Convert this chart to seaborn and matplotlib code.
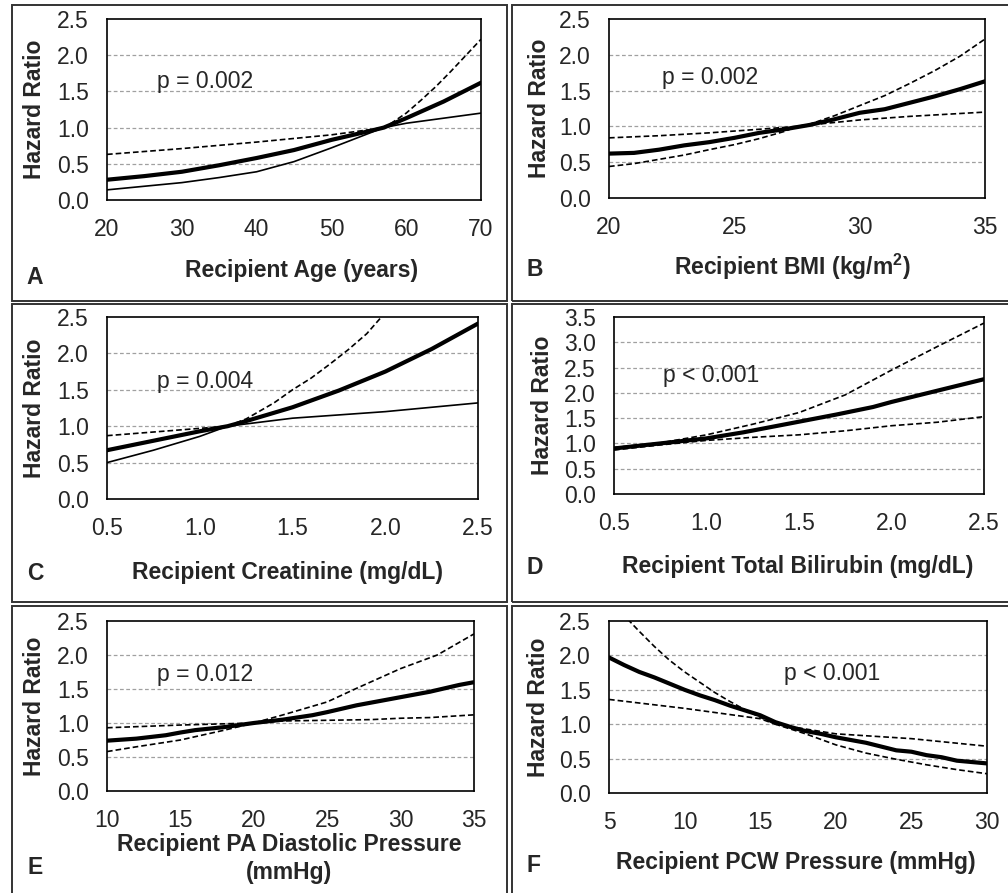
"""
Hazard ratio curves (A-F) for six recipient variables.
"""

# ------------------------------------------------ IMPORTS ------------------------------------------------ #

import numpy as np
import pandas as pd
import seaborn as sns
import matplotlib.pyplot as plt
from matplotlib.patches import Rectangle

# ----------------------------------------------- CONSTANTS ----------------------------------------------- #

W, H = 1008, 893

# A - Recipient Age
age_x = [20, 25, 30, 35, 40, 45, 50, 55, 57, 60, 65, 70]
age_hr = [0.28, 0.33, 0.39, 0.48, 0.58, 0.69, 0.83, 0.95, 1.0, 1.13, 1.36, 1.62]
age_x_up = [20, 30, 40, 50, 55, 57, 58, 60, 62, 64, 66, 68, 70]
age_up = [0.63, 0.71, 0.80, 0.90, 0.97, 1.0, 1.06, 1.20, 1.38, 1.57, 1.78, 2.0, 2.22]
age_x_lo = [20, 25, 30, 35, 40, 45, 50, 55, 57, 60, 65, 70]
age_lo = [0.14, 0.19, 0.24, 0.31, 0.39, 0.53, 0.72, 0.92, 1.0, 1.06, 1.13, 1.20]

# B - Recipient BMI
bmi_x = [20, 21, 22, 23, 24, 25, 26, 27, 28, 29, 30, 31, 32, 33, 34, 35]
bmi_hr = [0.62, 0.63, 0.675, 0.735, 0.78, 0.84, 0.91, 0.96, 1.02, 1.10, 1.19, 1.24, 1.33, 1.42, 1.52, 1.63]
bmi_x_up = [20, 22, 24, 26, 27.5, 28, 29, 30, 31, 32, 33, 34, 35]
bmi_up = [0.84, 0.87, 0.91, 0.96, 1.0, 1.03, 1.15, 1.29, 1.43, 1.60, 1.78, 1.98, 2.22]
bmi_x_lo = [20, 21, 22, 23, 24, 25, 26, 27, 27.5, 28, 30, 32, 34, 35]
bmi_lo = [0.44, 0.48, 0.54, 0.60, 0.675, 0.745, 0.83, 0.93, 1.0, 1.02, 1.09, 1.14, 1.18, 1.20]

# C - Recipient Creatinine
cr_x = [0.5, 0.75, 1.0, 1.15, 1.25, 1.5, 1.75, 2.0, 2.25, 2.5]
cr_hr = [0.67, 0.80, 0.93, 1.0, 1.07, 1.26, 1.49, 1.75, 2.06, 2.41]
cr_x_up = [0.5, 0.75, 1.0, 1.15, 1.25, 1.4, 1.5, 1.6, 1.7, 1.8, 1.9, 2.0]
cr_up = [0.87, 0.92, 0.97, 1.0, 1.10, 1.32, 1.50, 1.66, 1.85, 2.05, 2.27, 2.56]
cr_x_lo = [0.5, 0.75, 1.0, 1.15, 1.5, 2.0, 2.5]
cr_lo = [0.50, 0.67, 0.86, 1.0, 1.11, 1.20, 1.32]

# D - Recipient Total Bilirubin
bil_x = [0.5, 0.6, 0.7, 0.8, 0.9, 1.0, 1.2, 1.4, 1.5, 1.7, 1.9, 2.0, 2.2, 2.4, 2.5]
bil_hr = [0.90, 0.94, 0.98, 1.02, 1.06, 1.10, 1.22, 1.36, 1.43, 1.57, 1.72, 1.82, 2.0, 2.18, 2.27]
bil_x_up = [0.5, 0.75, 1.0, 1.25, 1.5, 1.75, 2.0, 2.25, 2.5]
bil_up = [0.92, 1.01, 1.17, 1.38, 1.61, 1.96, 2.45, 2.92, 3.38]
bil_x_lo = [0.5, 0.75, 1.0, 1.25, 1.5, 1.75, 2.0, 2.25, 2.5]
bil_lo = [0.87, 0.97, 1.06, 1.12, 1.17, 1.25, 1.35, 1.42, 1.53]

# E - Recipient PA Diastolic Pressure
pad_x = [10, 12, 14, 15, 16, 18, 20, 22, 24, 25, 26, 27, 28, 30, 32, 34, 35]
pad_hr = [0.74, 0.77, 0.82, 0.86, 0.895, 0.94, 1.0, 1.05, 1.115, 1.16, 1.21, 1.26, 1.30, 1.38, 1.46, 1.56, 1.60]
pad_x_up = [10, 15, 20, 22, 25, 27, 30, 32.5, 35]
pad_up = [0.93, 0.97, 1.0, 1.12, 1.31, 1.51, 1.80, 2.0, 2.31]
pad_x_lo = [10, 12, 15, 18, 20, 22, 25, 28, 30, 32, 35]
pad_lo = [0.58, 0.65, 0.75, 0.895, 1.0, 1.03, 1.04, 1.05, 1.07, 1.08, 1.12]

# F - Recipient PCW Pressure
pcw_x = [5, 6, 7, 8, 9, 10, 11, 12, 13, 14, 15, 16, 17, 18, 19, 20, 22, 24, 25, 26, 27, 28, 30]
pcw_hr = [1.97, 1.86, 1.76, 1.68, 1.59, 1.50, 1.42, 1.35, 1.27, 1.20, 1.13, 1.03, 0.96, 0.90,
          0.86, 0.81, 0.73, 0.62, 0.60, 0.55, 0.52, 0.47, 0.43]
pcw_x_a = [5, 6, 7, 8, 9, 10, 11, 12, 13, 14, 15, 16, 18, 20, 22, 24, 26, 28, 30]
pcw_a = [2.95, 2.58, 2.35, 2.13, 1.93, 1.76, 1.61, 1.46, 1.33, 1.21, 1.10, 1.0, 0.86, 0.70,
         0.58, 0.49, 0.41, 0.34, 0.28]
pcw_x_b = [5, 10, 15, 16, 20, 25, 30]
pcw_b = [1.36, 1.23, 1.08, 1.0, 0.86, 0.79, 0.68]

xlabels = ['Recipient Age (years)', 'Recipient BMI (kg/m$^\\mathbf{2}$)', 'Recipient Creatinine (mg/dL)',
           'Recipient Total Bilirubin (mg/dL)', 'Recipient PA Diastolic Pressure\n(mmHg)',
           'Recipient PCW Pressure (mmHg)']
p_texts = ['p = 0.002', 'p = 0.002', 'p = 0.004', 'p < 0.001', 'p = 0.012', 'p < 0.001']
letters = ['A', 'B', 'C', 'D', 'E', 'F']

DASH = (0, (3.4, 1.8))

# ----------------------------------------------- FUNCTIONS ----------------------------------------------- #


def fig_box(left, top, right, bottom):
    # pixel box -> figure fraction [l, b, w, h]
    return [left / W, 1 - bottom / H, (right - left) / W, (bottom - top) / H]


def draw_panel(fig, box, est, upper, lower, lower_solid, xlim, xticks, fmt, ylim, yticks,
               xlabel, ptext, ppos, letter, letter_pos, xlabel_pos, ylabel_x):
    ax = fig.add_axes(fig_box(*box))
    for y in yticks[1:-1]:
        ax.axhline(y, color='#a0a0a0', lw=0.9, ls=(0, (3, 2)), zorder=0)

    sns.lineplot(x=upper[0], y=upper[1], ax=ax, color='black', lw=1.2, ls=DASH)
    sns.lineplot(x=lower[0], y=lower[1], ax=ax, color='black', lw=1.2,
                 ls='-' if lower_solid else DASH)
    sns.lineplot(x=est[0], y=est[1], ax=ax, color='black', lw=3.0)

    ax.set_xlim(*xlim)
    ax.set_ylim(*ylim)
    ax.set_xticks(xticks)
    ax.set_xticklabels([fmt.format(v) for v in xticks])
    ax.set_yticks(yticks)
    ax.set_yticklabels([f'{v:.1f}' for v in yticks])
    ax.tick_params(axis='both', direction='out', length=4, width=1.2, color='black',
                   labelsize=16.5)
    ax.tick_params(axis='x', pad=9)
    ax.tick_params(axis='y', pad=9)
    for s in ax.spines.values():
        s.set_visible(True)
        s.set_color('black')
        s.set_linewidth(1.2)
    ax.set_xlabel('')
    ax.set_ylabel('Hazard Ratio', fontsize=16.5, fontweight='bold')
    # label baseline sits about 15 px right of its visual centre
    box_w = box[2] - box[0]
    ax.yaxis.set_label_coords((ylabel_x + 15 - box[0]) / box_w, 0.5)
    ax.text(ppos[0], ppos[1], ptext, fontsize=16.5, ha='left', va='center')

    lines = xlabel.split('\n')
    for i, line in enumerate(lines):
        fig.text(xlabel_pos[0] / W, 1 - (xlabel_pos[1] + i * 27) / H, line, fontsize=16.5,
                 fontweight='bold', ha='center', va='center')
    fig.text(letter_pos[0] / W, 1 - letter_pos[1] / H, letter, fontsize=16.5, fontweight='bold',
             ha='center', va='center')
    return ax


# ------------------------------------------------- MAIN ------------------------------------------------- #

def main():
    sns.set_style('white')
    plt.rcParams['font.family'] = ['Liberation Sans', 'DejaVu Sans']
    plt.rcParams['mathtext.fontset'] = 'custom'
    plt.rcParams['mathtext.bf'] = 'Liberation Sans:bold'

    fig = plt.figure(figsize=(W / 100, H / 100), dpi=100)
    fig.patch.set_facecolor('white')

    # panel frames
    for (l, t, r, b) in [(12, 5, 507, 301), (512, 5, 1015, 301),
                         (12, 304, 507, 602), (512, 304, 1015, 602),
                         (12, 606, 507, 900), (512, 606, 1015, 900)]:
        fig.patches.append(Rectangle((l / W, 1 - b / H), (r - l) / W, (b - t) / H,
                                     transform=fig.transFigure, fill=False,
                                     edgecolor='#333333', lw=1.4, zorder=0))

    y25 = [0, 0.5, 1.0, 1.5, 2.0, 2.5]
    y35 = [0, 0.5, 1.0, 1.5, 2.0, 2.5, 3.0, 3.5]

    draw_panel(fig, (107, 19, 481, 200), (age_x, age_hr), (age_x_up, age_up), (age_x_lo, age_lo), True,
               (20, 70), [20, 30, 40, 50, 60, 70], '{:d}', (0, 2.5), y25,
               xlabels[0], p_texts[0], (26.7, 1.63), letters[0], (35, 277), (302, 270), 31)
    draw_panel(fig, (609, 19, 985, 198), (bmi_x, bmi_hr), (bmi_x_up, bmi_up), (bmi_x_lo, bmi_lo), False,
               (20, 35), [20, 25, 30, 35], '{:d}', (0, 2.5), y25,
               xlabels[1], p_texts[1], (22.1, 1.68), letters[1], (535, 270), (792, 267), 536)
    draw_panel(fig, (107, 317, 478, 499), (cr_x, cr_hr), (cr_x_up, cr_up), (cr_x_lo, cr_lo), True,
               (0.5, 2.5), [0.5, 1.0, 1.5, 2.0, 2.5], '{:.1f}', (0, 2.5), y25,
               xlabels[2], p_texts[2], (0.77, 1.61), letters[2], (35, 573), (288, 572), 31)
    draw_panel(fig, (614, 317, 984, 494), (bil_x, bil_hr), (bil_x_up, bil_up), (bil_x_lo, bil_lo), False,
               (0.5, 2.5), [0.5, 1.0, 1.5, 2.0, 2.5], '{:.1f}', (0, 3.5), y35,
               xlabels[3], p_texts[3], (0.765, 2.35), letters[3], (535, 567), (798, 566), 539)
    draw_panel(fig, (107, 621, 474, 791), (pad_x, pad_hr), (pad_x_up, pad_up), (pad_x_lo, pad_lo), False,
               (10, 35), [10, 15, 20, 25, 30, 35], '{:d}', (0, 2.5), y25,
               xlabels[4], p_texts[4], (13.4, 1.72), letters[4], (35, 867), (289, 845), 31)
    draw_panel(fig, (609, 621, 987, 793), (pcw_x, pcw_hr), (pcw_x_a, pcw_a), (pcw_x_b, pcw_b), False,
               (5, 30), [5, 10, 15, 20, 25, 30], '{:d}', (0, 2.5), y25,
               xlabels[5], p_texts[5], (16.6, 1.73), letters[5], (534, 865), (796, 863), 535)

    fig.savefig('out.png', dpi=100, facecolor='white')


if __name__ == '__main__':
    main()
